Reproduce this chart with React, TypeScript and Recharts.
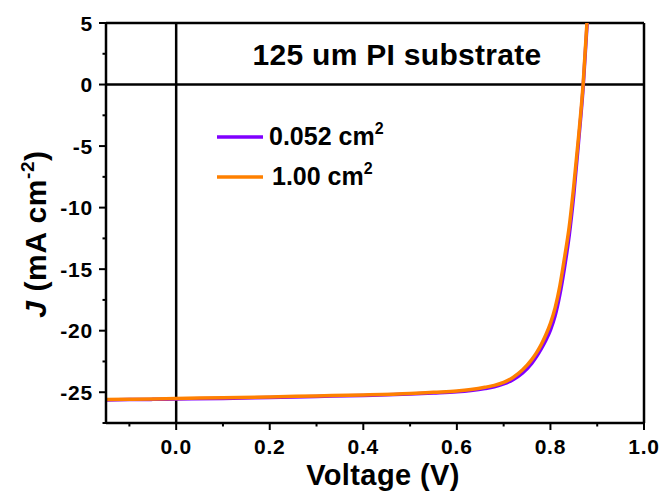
import React from 'react';
import { LineChart, Line, XAxis, YAxis, ReferenceLine, Customized } from 'recharts';

const voltage = [-0.15, -0.1, -0.05, 0, 0.1, 0.2, 0.3, 0.4, 0.5, 0.55, 0.6, 0.63, 0.66, 0.68, 0.7, 0.72, 0.74, 0.76, 0.77, 0.78, 0.79, 0.8, 0.81, 0.82, 0.83, 0.84, 0.85, 0.86, 0.87, 0.879];
const jSmall = [-25.64, -25.6, -25.58, -25.55, -25.5, -25.42, -25.34, -25.26, -25.15, -25.07, -24.97, -24.86, -24.7, -24.55, -24.32, -23.98, -23.45, -22.65, -22.12, -21.5, -20.8, -19.95, -18.8, -17.1, -14.9, -12.3, -8.9, -4.7, -0.2, 5.3];
const jLarge = [-25.6, -25.57, -25.55, -25.5, -25.45, -25.38, -25.3, -25.22, -25.1, -25.0, -24.9, -24.78, -24.6, -24.44, -24.2, -23.8, -23.2, -22.35, -21.8, -21.15, -20.35, -19.4, -18.15, -16.4, -14.1, -11.6, -8.2, -4.3, 0.1, 5.6];
const seriesNames = ['0.052 cm', '1.00 cm'];
const seriesColors = ['#8000ff', '#ff8000'];
const xTicks = [-0.1, 0, 0.1, 0.2, 0.3, 0.4, 0.5, 0.6, 0.7, 0.8, 0.9, 1.0];
const yTicks = [-27.5, -25, -22.5, -20, -17.5, -15, -12.5, -10, -7.5, -5, -2.5, 0, 2.5, 5];
const titleText = '125 um PI substrate';

const smallData = voltage.map((v, i) => ({ v, j: jSmall[i] }));
const largeData = voltage.map((v, i) => ({ v, j: jLarge[i] }));

const FONT = '"Liberation Sans", Arial, Helvetica, sans-serif';

const XTick = (props: any) => {
  const { x, y, payload } = props;
  const val = payload.value as number;
  const major = Math.abs(Math.round(val * 10)) % 2 === 0;
  return (
    <g>
      <line x1={x} x2={x} y1={y} y2={y + (major ? 7 : 3.5)} stroke="#000" strokeWidth={2} />
      {major && (
        <text x={x} y={y + 31} textAnchor="middle" fontFamily={FONT} fontWeight="bold" fontSize={21} letterSpacing={0.8} fill="#000">
          {val.toFixed(1)}
        </text>
      )}
    </g>
  );
};

const YTick = (props: any) => {
  const { x, y, payload } = props;
  const val = payload.value as number;
  const major = Math.abs(val % 5) < 1e-9;
  return (
    <g>
      <line x1={x} x2={x - (major ? 7 : 3.5)} y1={y} y2={y} stroke="#000" strokeWidth={2} />
      {major && (
        <text x={x - 13} y={y + 7.5} textAnchor="end" fontFamily={FONT} fontWeight="bold" fontSize={21} letterSpacing={0.8} fill="#000">
          {String(val)}
        </text>
      )}
    </g>
  );
};

const YLabel = () => (
  <text
    x={46}
    y={234}
    transform="rotate(-90 46 234)"
    textAnchor="middle"
    fontFamily={FONT}
    fontWeight="bold"
    fontSize={30}
    letterSpacing={0.6}
    fill="#000"
  >
    <tspan fontStyle="italic">J</tspan>
    <tspan> (mA cm</tspan>
    <tspan fontSize={19} dy={-12}>-2</tspan>
    <tspan dy={12}>)</tspan>
  </text>
);

const XLabel = () => (
  <text x={383} y={485} textAnchor="middle" fontFamily={FONT} fontWeight="bold" fontSize={29} letterSpacing={0.4} fill="#000">
    Voltage (V)
  </text>
);

const Title = () => (
  <text x={397} y={65} textAnchor="middle" fontFamily={FONT} fontWeight="bold" fontSize={30} letterSpacing={0.3} fill="#000">
    {titleText}
  </text>
);

const LegendBlock = () => (
  <g>
    {seriesNames.map((name, i) => (
      <g key={i}>
        <line x1={217} x2={263} y1={137 + i * 40} y2={137 + i * 40} stroke={seriesColors[i]} strokeWidth={3.5} />
        <text x={i === 0 ? 269 : 272} y={145 + i * 40} fontFamily={FONT} fontWeight="bold" fontSize={25} fill="#000">
          {name}
          <tspan fontSize={16} dy={-11}>2</tspan>
        </text>
      </g>
    ))}
  </g>
);

export default function App() {
  return (
    <div style={{ position: 'absolute', left: 0, top: 0, width: 665, height: 497, background: '#fff' }}>
      <LineChart width={665} height={497} margin={{ top: 23, right: 21, bottom: 0, left: 0 }}>
        <XAxis
          type="number"
          dataKey="v"
          domain={[-0.15, 1.0]}
          ticks={xTicks}
          allowDataOverflow
          height={74}
          tickLine={false}
          tickSize={0}
          tickMargin={0}
          tick={<XTick />}
          axisLine={{ stroke: '#000', strokeWidth: 2.5 }}
          interval={0}
        />
        <YAxis
          type="number"
          dataKey="j"
          domain={[-27.5, 5]}
          ticks={yTicks}
          allowDataOverflow
          width={106}
          tickLine={false}
          tickSize={0}
          tickMargin={0}
          tick={<YTick />}
          axisLine={{ stroke: '#000', strokeWidth: 2.5 }}
          interval={0}
        />
        <ReferenceLine y={5} stroke="#000" strokeWidth={2.5} />
        <ReferenceLine x={1.0} stroke="#000" strokeWidth={2.5} />
        <ReferenceLine y={0} stroke="#000" strokeWidth={2.5} />
        <ReferenceLine x={0} stroke="#000" strokeWidth={2.5} />
        <Line
          data={smallData}
          dataKey="j"
          name={seriesNames[0]}
          stroke={seriesColors[0]}
          strokeWidth={3.5}
          dot={false}
          type="monotone"
          isAnimationActive={false}
        />
        <Line
          data={largeData}
          dataKey="j"
          name={seriesNames[1]}
          stroke={seriesColors[1]}
          strokeWidth={3.5}
          dot={false}
          type="monotone"
          isAnimationActive={false}
        />
        <Customized component={Title} />
        <Customized component={LegendBlock} />
        <Customized component={YLabel} />
        <Customized component={XLabel} />
      </LineChart>
    </div>
  );
}
